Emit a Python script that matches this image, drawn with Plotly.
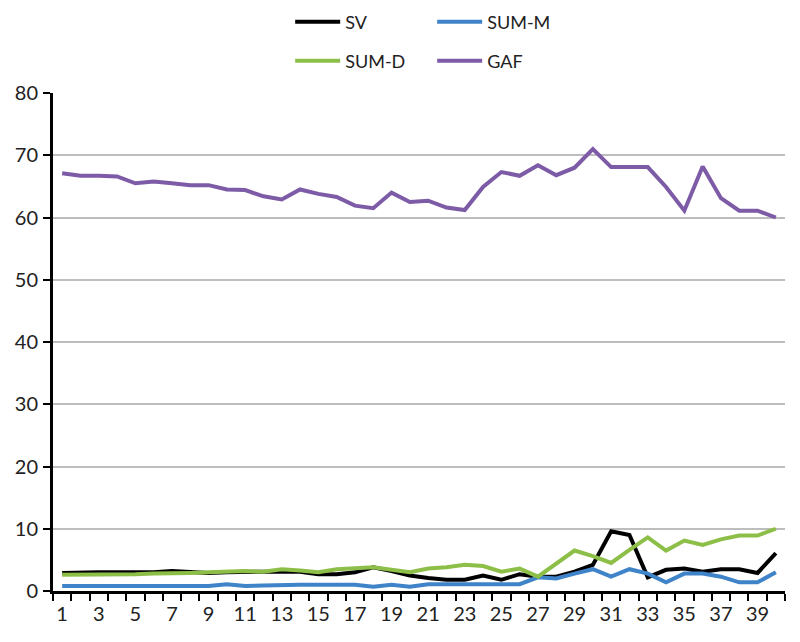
import plotly.graph_objects as go

categories = list(range(1, 41))
tick_labels = [str(i) for i in range(1, 41, 2)]

sv = [2.9, 3.0, 3.0, 3.0, 3.0, 3.0, 3.2, 3.1, 2.9, 3.0,
      3.1, 3.1, 3.1, 3.1, 2.7, 2.7, 3.0, 3.8, 3.2, 2.5,
      2.1, 1.8, 1.8, 2.5, 1.8, 2.7, 2.3, 2.3, 3.1, 4.2,
      9.6, 9.0, 2.2, 3.4, 3.6, 3.1, 3.5, 3.5, 2.9, 6.1]
sum_m = [0.8, 0.8, 0.8, 0.8, 0.8, 0.8, 0.8, 0.8, 0.8, 1.1,
         0.8, 0.9, 1.0, 1.0, 1.0, 1.0, 1.0, 0.7, 1.0, 0.7,
         1.1, 1.1, 1.1, 1.1, 1.1, 1.1, 2.2, 2.0, 2.8, 3.5,
         2.3, 3.5, 2.8, 1.4, 2.8, 2.8, 2.3, 1.4, 1.4, 3.0]
sum_d = [2.6, 2.6, 2.7, 2.6, 2.7, 2.8, 2.8, 2.9, 3.0, 3.1,
         3.2, 3.1, 3.5, 3.3, 3.0, 3.5, 3.6, 3.8, 3.4, 3.0,
         3.6, 3.8, 4.2, 4.0, 3.1, 3.6, 2.3, 4.5, 6.5, 5.6,
         4.5, 6.6, 8.6, 6.5, 8.1, 7.4, 8.3, 8.9, 8.9, 10.0]
gaf = [67.1, 66.7, 66.7, 66.6, 65.5, 65.8, 65.5, 65.2, 65.2, 64.5,
       64.4, 63.4, 62.9, 64.5, 63.8, 63.3, 61.9, 61.5, 64.0, 62.5,
       62.7, 61.6, 61.2, 64.9, 67.3, 66.7, 68.4, 66.8, 68.0, 71.0,
       68.1, 68.1, 68.1, 64.9, 61.1, 68.2, 63.1, 61.1, 61.1, 60.0]

FONT = "Lato"
fig = go.Figure()
series = [("SV", sv, "#000000", "legend"),
          ("SUM-M", sum_m, "#3f83c9", "legend"),
          ("SUM-D", sum_d, "#8dbf48", "legend2"),
          ("GAF", gaf, "#7d5ba6", "legend2")]
for name, vals, col, lg in series:
    fig.add_trace(go.Scatter(x=categories, y=vals, mode="lines", name=name,
                             line=dict(color=col, width=4), legend=lg))

legend_common = dict(orientation="h", xref="paper", yref="container",
                     xanchor="left", yanchor="middle", entrywidth=82,
                     itemwidth=45,
                     font=dict(family=FONT, size=18, color="#222"),
                     bgcolor="rgba(0,0,0,0)")
fig.update_layout(
    width=800, height=642,
    margin=dict(l=45, r=23, t=85, b=59, autoexpand=False),
    plot_bgcolor="white", paper_bgcolor="white",
    font=dict(family=FONT, size=20, color="#222"),
    showlegend=True,
    legend=dict(x=0.324, y=1 - 14 / 642, **legend_common),
    legend2=dict(x=0.324, y=1 - 53 / 642, **legend_common),
    xaxis=dict(range=[0.5, 40.5], tickmode="array",
               tickvals=list(range(1, 41, 2)), ticktext=tick_labels,
               ticks="", showgrid=False, zeroline=False,
               showline=True, linecolor="black", linewidth=3,
               ticklabelstandoff=3,
               tickfont=dict(family=FONT, size=20),
               minor=dict(tickmode="linear", tick0=0.5, dtick=1,
                          ticks="outside", ticklen=7, tickwidth=2,
                          tickcolor="black", showgrid=False)),
    yaxis=dict(range=[0, 80], dtick=10, showgrid=True,
               gridcolor="#bdbdbd", gridwidth=1.5, zeroline=False,
               showline=True, linecolor="black", linewidth=3,
               ticks="outside", ticklen=7, tickwidth=2, tickcolor="black",
               ticklabelstandoff=1,
               tickfont=dict(family=FONT, size=20)),
)
fig.write_html("out.html")
